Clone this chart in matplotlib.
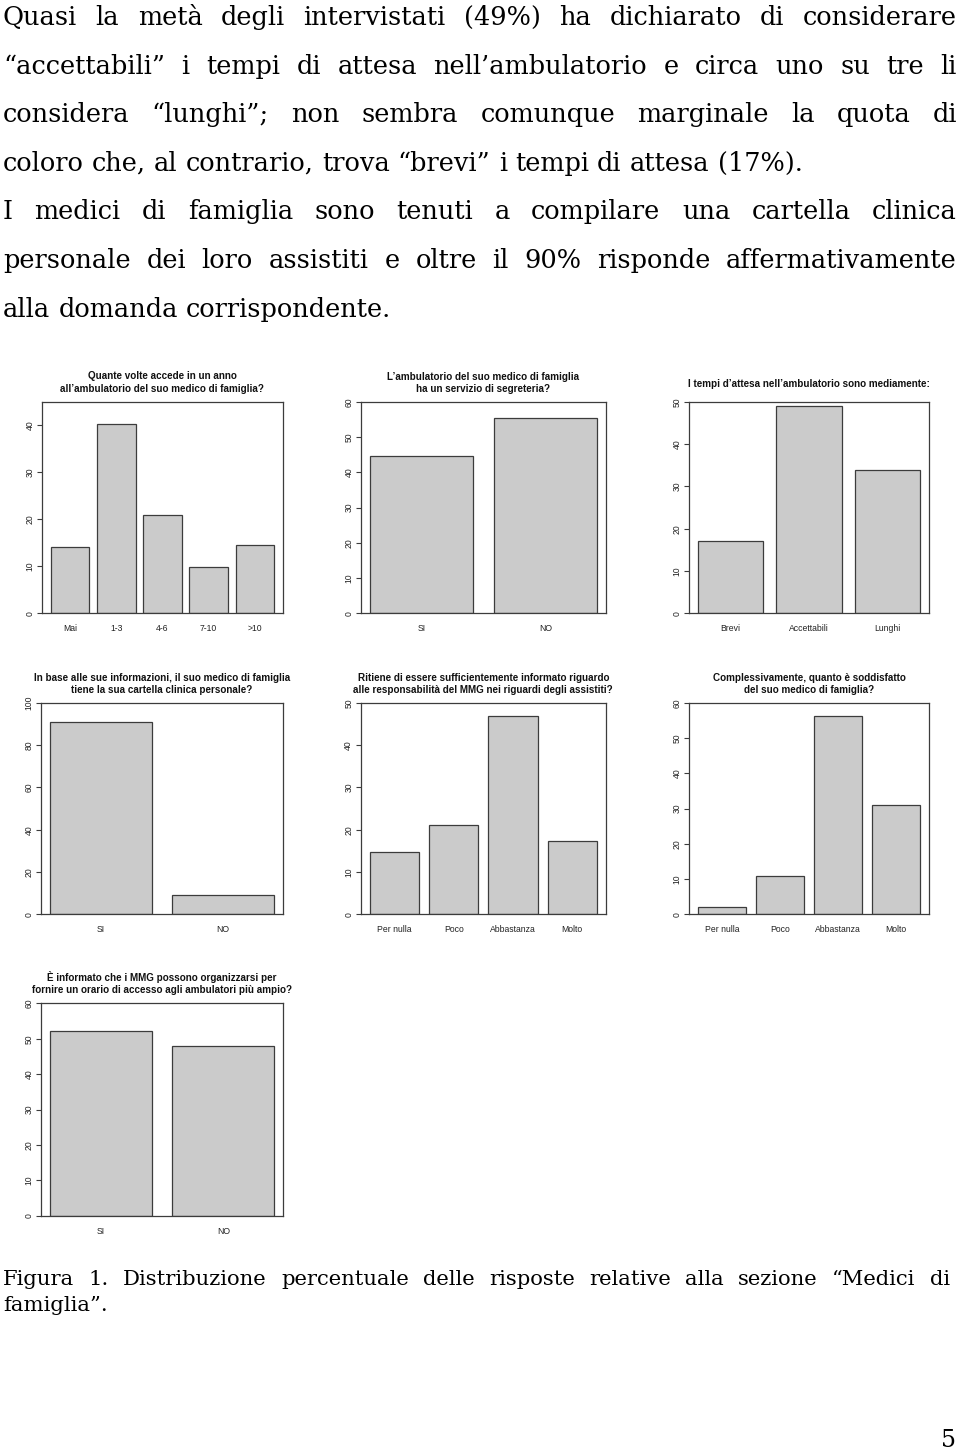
import numpy as np
import matplotlib
matplotlib.use("Agg")
import matplotlib.pyplot as plt

W, H = 960, 1451

# ------------------------
# Chart data (percent)
# ------------------------
cats_visite = ["Mai", "1-3", "4-6", "7-10", ">10"]
vals_visite = [14.2, 40.4, 21.0, 9.9, 14.6]

cats_sino = ["SI", "NO"]
vals_segreteria = [44.7, 55.3]

cats_attesa = ["Brevi", "Accettabili", "Lunghi"]
vals_attesa = [17.1, 49.0, 33.9]

vals_cartella = [90.9, 9.1]

cats_scala = ["Per nulla", "Poco", "Abbastanza", "Molto"]
vals_informato = [14.8, 21.1, 46.8, 17.3]
vals_soddisfatto = [2.0, 10.8, 56.2, 31.0]

vals_orario = [52.2, 47.8]

titles = [
    "Quante volte accede in un anno\nall’ambulatorio del suo medico di famiglia?",
    "L’ambulatorio del suo medico di famiglia\nha un servizio di segreteria?",
    "I tempi d’attesa nell’ambulatorio sono mediamente:",
    "In base alle sue informazioni, il suo medico di famiglia\ntiene la sua cartella clinica personale?",
    "Ritiene di essere sufficientemente informato riguardo\nalle responsabilità del MMG nei riguardi degli assistiti?",
    "Complessivamente, quanto è soddisfatto\ndel suo medico di famiglia?",
    "È informato che i MMG possono organizzarsi per\nfornire un orario di accesso agli ambulatori più ampio?",
]
charts = [
    (cats_visite, vals_visite, 45, np.arange(0, 41, 10)),
    (cats_sino, vals_segreteria, 60, np.arange(0, 61, 10)),
    (cats_attesa, vals_attesa, 50, np.arange(0, 51, 10)),
    (cats_sino, vals_cartella, 100, np.arange(0, 101, 20)),
    (cats_scala, vals_informato, 50, np.arange(0, 51, 10)),
    (cats_scala, vals_soddisfatto, 60, np.arange(0, 61, 10)),
    (cats_sino, vals_orario, 60, np.arange(0, 61, 10)),
]

paragraph = [
    ("Quasi la metà degli intervistati (49%) ha dichiarato di considerare", True),
    ("“accettabili” i tempi di attesa nell’ambulatorio e circa uno su tre li", True),
    ("considera “lunghi”; non sembra comunque marginale la quota di", True),
    ("coloro che, al contrario, trova “brevi” i tempi di attesa (17%).", False),
    ("I medici di famiglia sono tenuti a compilare una cartella clinica", True),
    ("personale dei loro assistiti e oltre il 90% risponde affermativamente", True),
    ("alla domanda corrispondente.", False),
]
caption = [
    ("Figura 1. Distribuzione percentuale delle risposte relative alla sezione “Medici di", True),
    ("famiglia”.", False),
]

# ------------------------
# Layout (pixels)
# ------------------------
boxes = [(42, 402, 283, 613.3), (361, 401.7, 606, 613.3), (689, 401.7, 929, 613.3),
         (41, 702.7, 283, 914.3), (360.7, 702.7, 606, 914.3), (689, 702.7, 929.3, 914.3),
         (41, 1003.3, 283.3, 1215.7)]
title_y = [382.5, 383, 384, 684, 684, 684, 983]

SERIF = "DejaVu Serif"
SANS = "Liberation Sans"
EDGE = "#3c3c3c"
FILL = "#cbcbcb"

fig = plt.figure(figsize=(W / 100, H / 100), dpi=100)
renderer = fig.canvas.get_renderer()


def text_width(s, size, family=SERIF):
    t = fig.text(0, 0, s, fontsize=size, family=family)
    w = t.get_window_extent(renderer).width
    t.remove()
    return w


def fit_size(lines, size, x0, x1):
    # shrink until every justified line fits with ordinary spaces
    while size > 6:
        ok = all(text_width(l, size) <= (x1 - x0) - 4 for l, j in lines if j)
        if ok:
            return size
        size -= 0.2
    return size


def draw_lines(lines, size, y0, step, x0, x1):
    space = text_width("a a", size) - text_width("aa", size)
    for i, (line, justify) in enumerate(lines):
        words = line.split(" ")
        widths = [text_width(w, size) for w in words]
        gap = (x1 - x0 - sum(widths)) / (len(words) - 1) if justify else space
        x = x0
        y = y0 + i * step
        for w, wd in zip(words, widths):
            fig.text(x / W, 1 - y / H, w, fontsize=size, family=SERIF,
                     ha="left", va="baseline", color="black")
            x += wd + gap


# body text: the unjustified 4th line runs to about x=805 in the page
body_size = 10 * 802 / text_width(paragraph[3][0], 10)
body_size = fit_size(paragraph, body_size, 3, 957)
draw_lines(paragraph, body_size, 25, 48.6, 3, 957)

cap_size = fit_size(caption, 15.2, 3, 950)
draw_lines(caption, cap_size, 1285, 26, 3, 950)

fig.text(956 / W, 1 - 1447 / H, "5", fontsize=17, family=SERIF,
         ha="right", va="baseline")

# ------------------------
# Bar charts (R barplot style)
# ------------------------
for (cats, vals, ytop, yticks), (x0, y0, x1, y1), title, ty in zip(charts, boxes, titles, title_y):
    ax = fig.add_axes([x0 / W, 1 - y1 / H, (x1 - x0) / W, (y1 - y0) / H])
    n = len(vals)
    centers = 0.7 + 1.2 * np.arange(n)
    ax.bar(centers, vals, width=1.0, color=FILL, edgecolor=EDGE, linewidth=0.9)
    lo, hi = 0.2, 1.2 * n
    ext = 0.04 * (hi - lo)
    ax.set_xlim(lo - ext, hi + ext)
    ax.set_ylim(0, ytop)
    ax.set_xticks(centers)
    ax.set_xticklabels(cats, family=SANS, fontsize=6.2, color="#222222")
    ax.set_yticks(yticks)
    ax.set_yticklabels([str(v) for v in yticks], family=SANS, fontsize=6.2,
                       color="#222222", rotation=90, va="center")
    ax.tick_params(axis="x", length=0, pad=7.8)
    ax.tick_params(axis="y", length=3.6, width=0.8, color=EDGE, pad=1.8)
    for sp in ax.spines.values():
        sp.set_color(EDGE)
        sp.set_linewidth(0.9)
    fig.text((x0 + x1) / 2 / W, 1 - ty / H, title, fontsize=7.1, family=SANS,
             fontweight="bold", ha="center", va="center", linespacing=1.3,
             color="#111111")

fig.savefig("out.png", dpi=100, facecolor="white")
